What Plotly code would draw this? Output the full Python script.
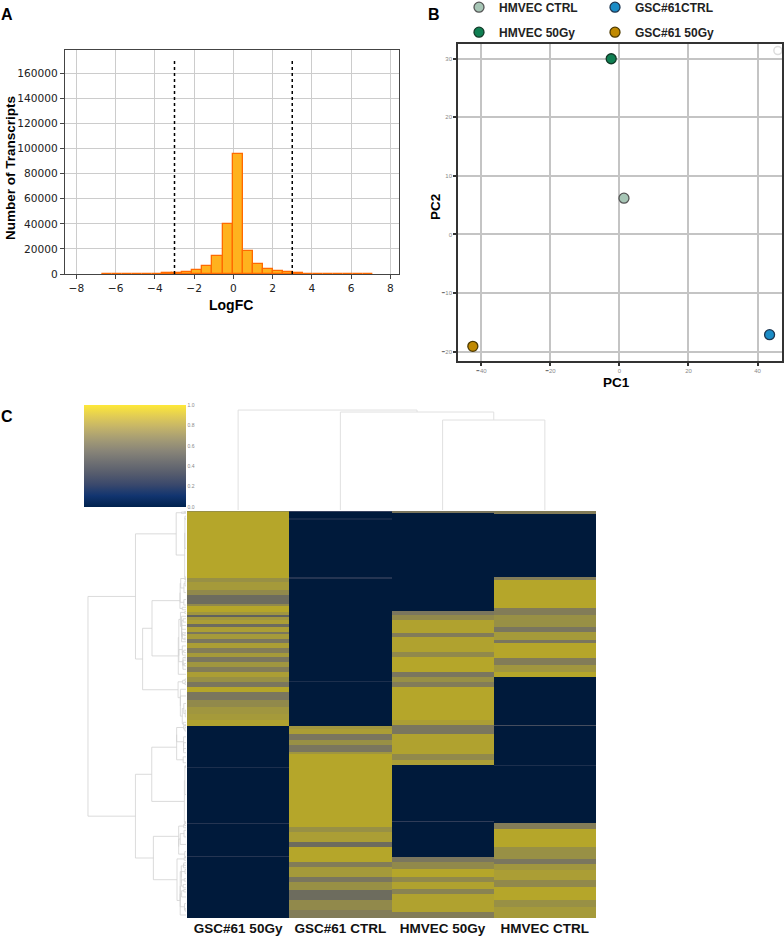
import numpy as np
import plotly.graph_objects as go

W, H = 784, 939

# ---------------- A: LogFC histogram ----------------
logfc_bin_edges = [-6.71, -6.20, -5.68, -5.17, -4.66, -4.14, -3.63, -3.12, -2.61, -2.09,
                   -1.58, -1.07, -0.55, -0.04, 0.47, 0.98, 1.50, 2.01, 2.52, 3.03,
                   3.55, 4.06, 4.57, 5.09, 5.60, 6.11, 6.63, 7.14]
logfc_counts = [50, 50, 60, 80, 100, 200, 600, 1100, 1800, 3300,
                6500, 14300, 39800, 95500, 18700, 8100, 4000, 2000, 1300, 700,
                400, 300, 100, 80, 60, 50, 40]
threshold_fc = [-3, 3]
threshold_top = 170000

# ---------------- B: PCA ----------------
pca_groups = ["HMVEC CTRL", "GSC#61CTRL", "HMVEC 50Gy", "GSC#61 50Gy"]
pca_pc1 = [1.3, 43.5, -2.4, -42.5]
pca_pc2 = [6.2, -17.1, 30.0, -19.1]
pca_colors = ["#a7c6b6", "#1b8cc6", "#0f7f52", "#c08900"]
pca_lines = ["#555555", "#1d3550", "#123a28", "#4d3a00"]
pca_legend = ["legend", "legend2", "legend", "legend2"]
ghost_pc1 = [45.9]
ghost_pc2 = [31.4]

# ---------------- C: clustered heatmap ----------------
heat_samples = ["GSC#61 50Gy", "GSC#61 CTRL", "HMVEC 50Gy", "HMVEC CTRL"]
gsc50_ends = [4, 202, 212, 237, 252, 279, 285, 302, 312, 319, 327, 339, 347, 362, 370, 385, 397,
              412, 427, 439, 452, 467, 482, 497, 512, 527, 542, 567, 587, 607, 627, 643, 767,
              770, 935, 938, 1035, 1038, 1220]
gsc50_vals = [0.75, 1.0, 0.75, 0.85, 0.7, 0.5, 0.7, 1.0, 0.8, 0.45, 0.8, 0.9, 0.5, 0.9, 0.55,
              0.85, 0.55, 0.9, 0.6, 0.85, 0.55, 0.8, 0.6, 0.9, 0.75, 0.55, 1.0, 0.55, 0.7, 0.8,
              0.85, 0.95, 0.0, 0.15, 0.0, 0.2, 0.0, 0.2, 0.0]
gscctrl_ends = [4, 22, 27, 197, 204, 510, 514, 643, 652, 667, 687, 702, 722, 727, 947, 962,
                992, 1007, 1052, 1067, 1097, 1112, 1137, 1167, 1197, 1220]
gscctrl_vals = [0.3, 0.0, 0.12, 0.0, 0.2, 0.0, 0.15, 0.0, 0.8, 0.9, 0.55, 0.75, 0.55, 0.8, 1.0,
                0.75, 0.9, 0.5, 1.0, 0.6, 0.85, 0.55, 0.75, 0.5, 0.7, 0.6]
hm50_ends = [5, 300, 312, 327, 367, 377, 422, 437, 482, 497, 512, 527, 627, 642, 667, 727, 747,
             762, 930, 933, 1037, 1052, 1072, 1097, 1112, 1132, 1147, 1202, 1220]
hm50_vals = [0.55, 0.0, 0.55, 0.7, 0.95, 0.6, 0.95, 0.7, 1.0, 0.55, 0.75, 0.6, 1.0, 0.9, 0.55,
             0.95, 0.7, 0.9, 0.0, 0.25, 0.0, 0.55, 0.7, 1.0, 0.7, 0.95, 0.65, 0.95, 0.6]
hmctrl_ends = [9, 199, 207, 292, 312, 347, 362, 387, 397, 442, 462, 482, 497, 640, 645, 762,
               765, 935, 952, 1007, 1042, 1057, 1077, 1107, 1127, 1167, 1187, 1220]
hmctrl_vals = [0.6, 0.0, 0.6, 1.0, 0.6, 0.75, 0.55, 0.85, 0.55, 1.0, 0.6, 0.8, 1.0, 0.0, 0.35,
               0.0, 0.15, 0.0, 0.6, 1.0, 0.75, 0.55, 0.8, 0.9, 0.7, 1.0, 0.75, 0.85]
# column dendrogram: (child a, child b, height); leaves 0..3, new nodes numbered from 4
col_links = [(2, 3, 0.857), (1, 4, 0.933), (0, 5, 0.952)]
cbar_ticks = [0.0, 0.2, 0.4, 0.6, 0.8, 1.0]

heat_cols = [(gsc50_ends, gsc50_vals), (gscctrl_ends, gscctrl_vals),
             (hm50_ends, hm50_vals), (hmctrl_ends, hmctrl_vals)]
row_edges = sorted(set([0] + [e for ends, _ in heat_cols for e in ends]))
lo = np.array(row_edges[:-1])
hi = np.array(row_edges[1:])
z = np.zeros((len(lo), len(heat_cols)))
for j, (ends, vals) in enumerate(heat_cols):
    starts = [0] + ends[:-1]
    for s, e, v in zip(starts, ends, vals):
        z[(lo >= s) & (hi <= e), j] = v


def row_linkage(z, sizes):
    # Ward linkage, keeping the row order (only neighbours merge)
    active = list(range(len(sizes)))
    means = {i: z[i].copy() for i in active}
    counts = {i: float(sizes[i]) for i in active}
    hts = {i: 0.0 for i in active}
    links, nxt = [], len(sizes)
    while len(active) > 1:
        best = None
        for k in range(len(active) - 1):
            a, b = active[k], active[k + 1]
            na, nb = counts[a], counts[b]
            d = np.sqrt(2 * na * nb / (na + nb)) * np.linalg.norm(means[a] - means[b])
            if best is None or d < best[0]:
                best = (d, k)
        d, k = best
        a, b = active[k], active[k + 1]
        h = max(d, hts[a], hts[b])
        links.append((a, b, h))
        counts[nxt] = counts[a] + counts[b]
        means[nxt] = (means[a] * counts[a] + means[b] * counts[b]) / counts[nxt]
        hts[nxt] = h
        active[k:k + 2] = [nxt]
        nxt += 1
    return links


def dendro_lines(links, leaf_pos):
    pos = list(leaf_pos)
    hts = [0.0] * len(leaf_pos)
    p_out, h_out = [], []
    for a, b, h in links:
        p_out += [pos[a], pos[a], pos[b], pos[b], None]
        h_out += [hts[a], h, h, hts[b], None]
        pos.append((pos[a] + pos[b]) / 2)
        hts.append(h)
    return p_out, h_out


def px(x):
    return x / W


def py(y):
    return 1 - y / H


fig = go.Figure()

# ---- A
centers = [(a + b) / 2 for a, b in zip(logfc_bin_edges[:-1], logfc_bin_edges[1:])]
widths = [b - a for a, b in zip(logfc_bin_edges[:-1], logfc_bin_edges[1:])]
fig.add_trace(go.Bar(x=centers, y=logfc_counts, width=widths, xaxis="x", yaxis="y",
                     marker=dict(color="#ffb21e", line=dict(color="#ff6a00", width=1.3)),
                     showlegend=False))
for t in threshold_fc:
    fig.add_trace(go.Scatter(x=[t, t], y=[0, threshold_top], mode="lines", xaxis="x", yaxis="y",
                             line=dict(color="black", width=1.5, dash="dot"), showlegend=False))

# ---- B
fig.add_trace(go.Scatter(x=ghost_pc1, y=ghost_pc2, mode="markers", xaxis="x2", yaxis="y2",
                         marker=dict(symbol="circle-open", size=8, color="#dddddd",
                                     line=dict(width=1.5)),
                         showlegend=False))
for name, x, y, c, lc, lg in zip(pca_groups, pca_pc1, pca_pc2, pca_colors, pca_lines, pca_legend):
    fig.add_trace(go.Scatter(x=[x], y=[y], mode="markers", name=name, xaxis="x2", yaxis="y2",
                             legend=lg, legendgroup=name,
                             marker=dict(size=10, color=c, line=dict(color=lc, width=1.3))))

# ---- C
fig.add_trace(go.Heatmap(z=z, x=[0, 1, 2, 3], y=row_edges, xaxis="x3", yaxis="y3",
                         zmin=0, zmax=1, showscale=False,
                         colorscale=[[0, "#001a3b"], [0.3, "#38435e"], [0.55, "#7a765e"],
                                     [0.8, "#a0963f"], [1, "#b5a62a"]]))

cp, ch = dendro_lines(col_links, [0, 1, 2, 3])
fig.add_trace(go.Scatter(x=cp, y=ch, mode="lines", xaxis="x4", yaxis="y4",
                         line=dict(color="#e0e0e0", width=1), showlegend=False))

row_links = row_linkage(z, hi - lo)
rp, rh = dendro_lines(row_links, list((lo + hi) / 2))
root_h = row_links[-1][2]
fig.add_trace(go.Scatter(x=rh, y=rp, mode="lines", xaxis="x5", yaxis="y5",
                         line=dict(color="#d2d2d2", width=0.8), showlegend=False))

fig.add_trace(go.Scatter(x=[None], y=[None], mode="markers", xaxis="x3", yaxis="y3",
                         showlegend=False,
                         marker=dict(color=[0, 1], cmin=0, cmax=1, colorscale="cividis",
                                     showscale=True,
                                     colorbar=dict(x=px(84), xanchor="left", y=py(507),
                                                   yanchor="bottom", len=102, lenmode="pixels",
                                                   thickness=102, thicknessmode="pixels",
                                                   outlinewidth=0, xpad=0, ypad=0,
                                                   tickvals=cbar_ticks,
                                                   ticktext=[f"{v:.1f}" for v in cbar_ticks],
                                                   ticks="",
                                                   tickfont=dict(size=5, color="#888888")))))


def neg_tick(v):
    if v < 0:
        return f"<span style='color:#000;font-weight:bold'>\u2212</span>{abs(v)}"
    return str(v)


pc1_ticks = [-40, -20, 0, 20, 40]
pc2_ticks = [-20, -10, 0, 10, 20, 30]
dejavu = "DejaVu Sans"
arial = "Liberation Sans, Arial"

axA = dict(showgrid=True, gridcolor="#cccccc", gridwidth=1, zeroline=False,
           showline=True, linecolor="#444444", linewidth=1.2, mirror=True,
           ticks="outside", ticklen=4, tickcolor="#444444",
           tickfont=dict(family=dejavu, size=10.6, color="#222222"))
axB = dict(showgrid=True, gridcolor="#c4c4c4", gridwidth=1.5, zeroline=False,
           showline=True, linecolor="#333333", linewidth=1.6, mirror=True,
           ticks="outside", ticklen=3, tickcolor="#333333", tickwidth=1.5,
           tickfont=dict(family=arial, size=6, color="#888888"))
hidden = dict(visible=False)
legend_font = dict(family=arial, size=12, color="#222222", weight="bold")

fig.update_layout(
    width=W, height=H, margin=dict(l=0, r=0, t=0, b=0, autoexpand=False),
    paper_bgcolor="white", plot_bgcolor="white",
    font=dict(family=arial, color="#111111"),
    bargap=0,
    xaxis=dict(axA, anchor="y", domain=[px(65), px(399)], range=[-8.58, 8.44],
               tickvals=list(range(-8, 9, 2))),
    yaxis=dict(axA, anchor="x", domain=[py(274), py(50)], range=[0, 178600], dtick=20000,
               tickformat="d"),
    xaxis2=dict(axB, anchor="y2", domain=[px(458), px(782)], range=[-46.8, 47.1],
                tickvals=pc1_ticks, ticktext=[neg_tick(v) for v in pc1_ticks]),
    yaxis2=dict(axB, anchor="x2", domain=[py(361), py(43.5)], range=[-21.6, 32.6],
                tickvals=pc2_ticks, ticktext=[neg_tick(v) for v in pc2_ticks]),
    xaxis3=dict(anchor="y3", domain=[px(187), px(596)], range=[-0.5, 3.5], showgrid=False,
                zeroline=False, tickvals=[0, 1, 2, 3],
                ticktext=[f"<b>{s}</b>" for s in heat_samples],
                ticks="", tickfont=dict(family=arial, size=13.5, color="#111111")),
    yaxis3=dict(anchor="x3", domain=[py(918), py(511)], range=[1220, 0], showgrid=False,
                zeroline=False, showticklabels=False),
    xaxis4=dict(hidden, anchor="y4", domain=[px(187), px(596)], range=[-0.5, 3.5]),
    yaxis4=dict(hidden, anchor="x4", domain=[py(510), py(405)], range=[0, 1]),
    xaxis5=dict(hidden, anchor="y5", domain=[px(84), px(186)], range=[root_h / 0.961, 0]),
    yaxis5=dict(hidden, anchor="x5", domain=[py(918), py(511)], range=[1220, 0]),
    legend=dict(x=px(459), y=1.0078, xanchor="left", yanchor="top", tracegroupgap=6,
                font=legend_font, bgcolor="rgba(0,0,0,0)"),
    legend2=dict(x=px(595), y=1.0078, xanchor="left", yanchor="top", tracegroupgap=6,
                 font=legend_font, bgcolor="rgba(0,0,0,0)"),
)

labels = [("<b>A</b>", 7, 15, 16, 0), ("<b>B</b>", 434, 14, 16, 0), ("<b>C</b>", 7, 416, 16, 0),
          ("<b>Number of Transcripts</b>", 10, 168, 13.5, -90), ("<b>LogFC</b>", 231, 305, 14, 0),
          ("<b>PC2</b>", 436, 207, 13.5, -90), ("<b>PC1</b>", 616, 382, 13.5, 0)]
for text, x, y, size, ang in labels:
    fig.add_annotation(text=text, x=px(x), y=py(y), xref="paper", yref="paper",
                       xanchor="center", yanchor="middle", showarrow=False, textangle=ang,
                       font=dict(family=arial, size=size, color="#000000"))

fig.write_html("out.html", config={"displayModeBar": False},
               post_script="document.body.style.margin='0';")
